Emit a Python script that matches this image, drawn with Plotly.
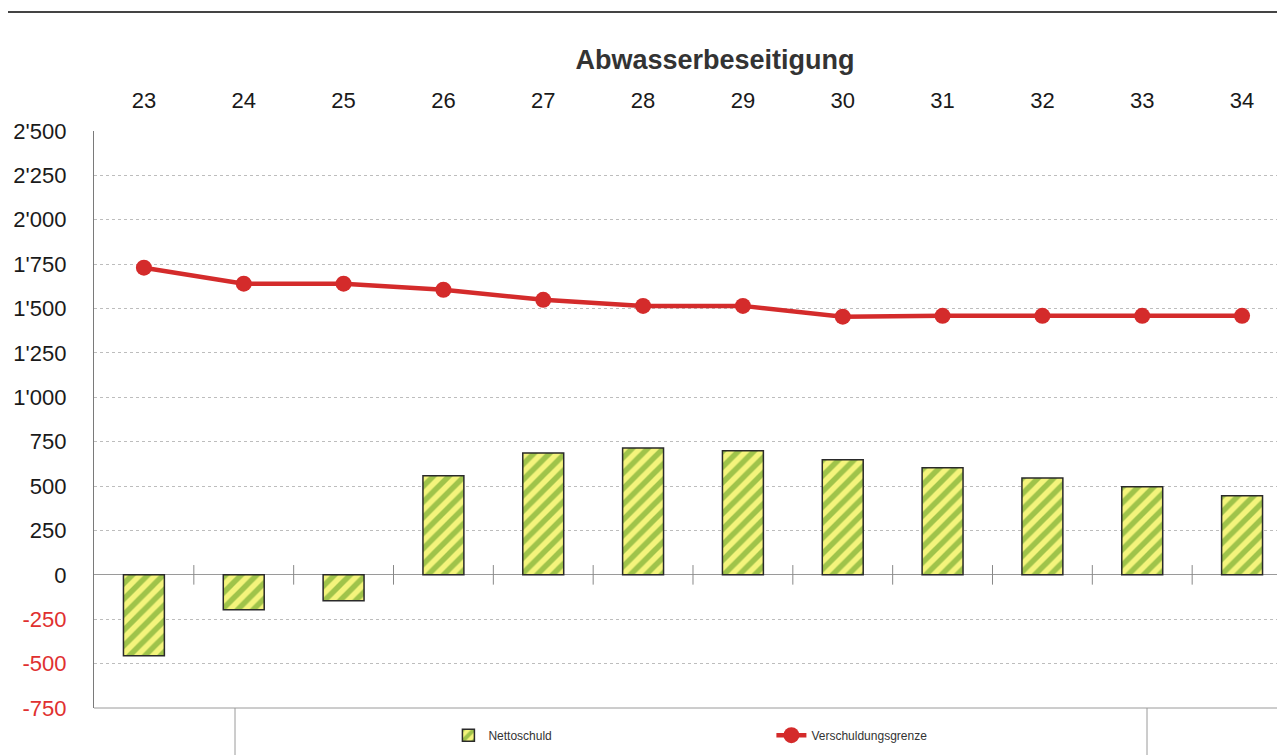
import plotly.graph_objects as go

categories = ["23", "24", "25", "26", "27", "28", "29", "30", "31", "32", "33", "34"]
nettoschuld = [-456, -197, -146, 558, 687, 715, 699, 648, 603, 546, 496, 445]
verschuldungsgrenze = [1730, 1640, 1640, 1606, 1549, 1515, 1515, 1454, 1459, 1459, 1459, 1459]
y_ticks = [-750, -500, -250, 0, 250, 500, 750, 1000, 1250, 1500, 1750, 2000, 2250, 2500]
y_tick_labels = ["-750", "-500", "-250", "0", "250", "500", "750", "1'000", "1'250",
                 "1'500", "1'750", "2'000", "2'250", "2'500"]

xs = list(range(len(categories)))
OFF = 8  # default page body margin
W, H = 1285 - OFF, 755 - OFF
ml, mr, mt, mb = 94 - OFF, 0, 131 - OFF, 47
ph = H - mt - mb
pw = W - ml - mr

ytext = [f'<span style="color:#e03030">{t}</span>' if v < 0 else t
         for v, t in zip(y_ticks, y_tick_labels)]

fig = go.Figure()
fig.add_trace(go.Bar(
    x=xs, y=nettoschuld, name="Nettoschuld", width=0.41,
    marker=dict(color="#f2f27a",
                pattern=dict(shape="/", fgcolor="#4a9218", bgcolor="#f4f47c", size=11, solidity=0.5),
                line=dict(color="#2a2a2a", width=1.5)),
))
# small category separator ticks on zero line
fig.add_trace(go.Scatter(
    x=[i + 0.5 for i in xs[:-1]], y=[0] * (len(xs) - 1), mode="markers",
    marker=dict(symbol="line-ns", size=14, line=dict(color="#888888", width=1)),
    showlegend=False, hoverinfo="skip",
))
fig.add_trace(go.Scatter(
    x=xs, y=verschuldungsgrenze, name="Verschuldungsgrenze", mode="lines+markers",
    line=dict(color="#d42b2b", width=4.5),
    marker=dict(color="#d42b2b", size=16),
))

fig.update_layout(
    width=W, height=H,
    margin=dict(l=ml, r=mr, t=mt, b=mb, autoexpand=False),
    paper_bgcolor="white", plot_bgcolor="white",
    font=dict(family="Liberation Sans, Arial, sans-serif", color="#1a1a1a"),
    title=dict(text="<b>Abwasserbeseitigung</b>", x=(715 - OFF) / W, xanchor="center",
               y=1 - (60 - OFF) / H, yanchor="middle", font=dict(size=27, color="#333333")),
    showlegend=True,
    legend=dict(orientation="h", x=(448 - OFF - 60) / W, xanchor="left", y=-0.022, yanchor="top",
                entrywidth=278, entrywidthmode="pixels",
                font=dict(size=12, color="#333333"), bgcolor="rgba(0,0,0,0)",
                itemwidth=30),
    xaxis=dict(
        tickmode="array", tickvals=xs, ticktext=categories, side="top",
        range=[-0.5, 11.43], showgrid=False, zeroline=False, showline=False,
        ticks="", tickfont=dict(size=22), ticklabelstandoff=18, automargin=False,
    ),
    yaxis=dict(
        tickmode="array", tickvals=y_ticks, ticktext=ytext, range=[-750, 2500],
        tickfont=dict(size=22, color="#1a1a1a"),
        showgrid=True, gridcolor="#bdbdbd", griddash="dot", gridwidth=1,
        zeroline=True, zerolinecolor="#9a9a9a", zerolinewidth=1,
        showline=True, linecolor="#7a7a7a", linewidth=1.2,
        ticks="", ticklabelstandoff=22, automargin=False,
    ),
)

# top rule across page
ytop = 1 + (mt - (12 - OFF)) / ph
fig.add_shape(type="line", xref="paper", yref="paper", x0=-ml / pw, x1=1.0,
              y0=ytop, y1=ytop, line=dict(color="#444444", width=2))
# bottom axis line
fig.add_shape(type="line", xref="paper", yref="paper", x0=0, x1=1, y0=0, y1=0,
              line=dict(color="#9a9a9a", width=1))
# legend box sides
for px in (235, 1147):
    xp = (px - OFF - ml) / pw
    fig.add_shape(type="line", xref="paper", yref="paper", x0=xp, x1=xp,
                  y0=0, y1=-mb / ph - 0.01, line=dict(color="#9a9a9a", width=1))

fig.write_html("out.html")
